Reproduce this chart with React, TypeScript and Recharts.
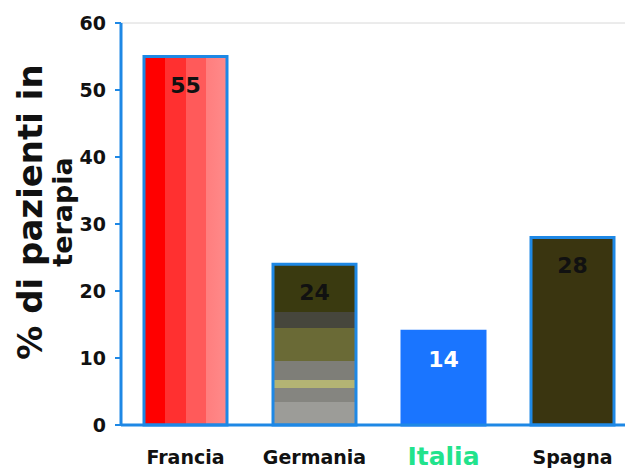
import React from "react";
import { BarChart, Bar, XAxis, YAxis, Cell, LabelList, ReferenceLine } from "recharts";

const countries = ["Francia", "Germania", "Italia", "Spagna"];
const percents = [55, 24, 14, 28];
const yTicks = [0, 10, 20, 30, 40, 50, 60];

const data = countries.map((name, i) => ({ name, value: percents[i] }));

const AXIS_BLUE = "#1e88e5";
const FONT = "'DejaVu Sans', Verdana, sans-serif";

const fills = ["url(#franciaFill)", "url(#germaniaFill)", "#1a75ff", "#3a3510"];
const strokes = [AXIS_BLUE, AXIS_BLUE, "#1a75ff", AXIS_BLUE];
const labelColors = ["#111", "#111", "#fff", "#111"];

function CountryTick(props: any) {
  const { x, y, payload } = props;
  const isItaly = payload.value === "Italia";
  return (
    <text
      x={x}
      y={y + (isItaly ? 32 : 31)}
      textAnchor="middle"
      fontFamily={FONT}
      fontWeight="bold"
      fontSize={isItaly ? 25 : 19}
      fill={isItaly ? "#22e38c" : "#111"}
    >
      {payload.value}
    </text>
  );
}

function ValueLabel(props: any) {
  const { x, y, width, value, index } = props;
  return (
    <text
      x={x + width / 2}
      y={y + 36}
      textAnchor="middle"
      fontFamily={FONT}
      fontWeight="bold"
      fontSize={22}
      fill={labelColors[index]}
    >
      {value}
    </text>
  );
}

export default function App() {
  return (
    <div
      style={{
        position: "fixed",
        left: 0,
        top: 0,
        width: 625,
        height: 472,
        overflow: "hidden",
        background: "#fff",
      }}
    >
      <BarChart
        width={640}
        height={472}
        data={data}
        margin={{ top: 23, right: 3, left: 0, bottom: 0 }}
        barSize={83}
      >
        <defs>
          <linearGradient id="franciaFill" x1="0" y1="0" x2="1" y2="0">
            <stop offset="0" stopColor="#ff0000" />
            <stop offset="0.25" stopColor="#ff0000" />
            <stop offset="0.25" stopColor="#ff3030" />
            <stop offset="0.5" stopColor="#ff3030" />
            <stop offset="0.5" stopColor="#ff5a5a" />
            <stop offset="0.75" stopColor="#ff5a5a" />
            <stop offset="0.75" stopColor="#ff7e7e" />
            <stop offset="1" stopColor="#ff8a8a" />
          </linearGradient>
          <linearGradient id="germaniaFill" x1="0" y1="0" x2="0" y2="1">
            <stop offset="0" stopColor="#3a3a10" />
            <stop offset="0.3" stopColor="#3a3a10" />
            <stop offset="0.3" stopColor="#46463c" />
            <stop offset="0.395" stopColor="#46463c" />
            <stop offset="0.395" stopColor="#6a6a36" />
            <stop offset="0.6" stopColor="#6a6a36" />
            <stop offset="0.6" stopColor="#7e7e78" />
            <stop offset="0.72" stopColor="#7e7e78" />
            <stop offset="0.72" stopColor="#b4b474" />
            <stop offset="0.77" stopColor="#b4b474" />
            <stop offset="0.77" stopColor="#858580" />
            <stop offset="0.86" stopColor="#858580" />
            <stop offset="0.86" stopColor="#9c9c98" />
            <stop offset="1" stopColor="#9c9c98" />
          </linearGradient>
        </defs>
        <ReferenceLine y={60} stroke="#d8d8d8" strokeWidth={1} />
        <XAxis
          dataKey="name"
          axisLine={{ stroke: AXIS_BLUE, strokeWidth: 3 }}
          tickLine={false}
          height={47}
          interval={0}
          tick={<CountryTick />}
        />
        <YAxis
          domain={[0, 60]}
          ticks={yTicks}
          interval={0}
          width={121}
          axisLine={{ stroke: AXIS_BLUE, strokeWidth: 3 }}
          tickLine={{ stroke: AXIS_BLUE, strokeWidth: 2 }}
          tickSize={6}
          tickMargin={9}
          tick={{ fontFamily: FONT, fontWeight: 900, fontSize: 19, fill: "#111" }}
        />
        <Bar dataKey="value" isAnimationActive={false} strokeWidth={3}>
          {data.map((d, i) => (
            <Cell key={d.name} fill={fills[i]} stroke={strokes[i]} />
          ))}
          <LabelList dataKey="value" content={<ValueLabel />} />
        </Bar>
        <text
          x={0}
          y={0}
          transform="translate(42,212) rotate(-90)"
          textAnchor="middle"
          fontFamily={FONT}
          fontWeight="bold"
          fontSize={34}
          fill="#111"
        >
          % di pazienti in
        </text>
        <text
          x={0}
          y={0}
          transform="translate(72,212) rotate(-90)"
          textAnchor="middle"
          fontFamily={FONT}
          fontWeight="bold"
          fontSize={27}
          fill="#111"
        >
          terapia
        </text>
      </BarChart>
    </div>
  );
}
